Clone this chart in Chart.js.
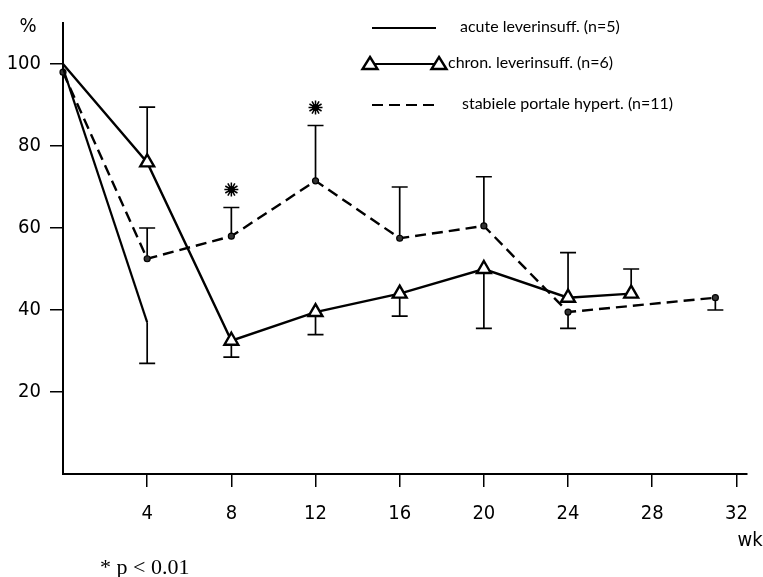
<!DOCTYPE html>
<html>
<head>
<meta charset="utf-8">
<script src="https://cdn.jsdelivr.net/npm/chart.js@4/dist/chart.umd.min.js"></script>
<style>
  html, body { margin: 0; padding: 0; background: #fff; }
  #wrap { position: relative; width: 763px; height: 577px; }
</style>
</head>
<body>
<div id="wrap"><canvas id="c" width="763" height="577"></canvas></div>
<script>
// Percentage of starting value per week, three patient groups
const weeksAcute = [0, 4];
const acute      = [99, 37];
const acuteSD    = [null, 27];            // end of one-sided SD bar

const weeksChron = [0, 4, 8, 12, 16, 20, 24, 27];
const chron      = [100, 76, 32.5, 39.5, 44, 50, 43, 44];
const chronSD    = [null, 89.5, 28.5, 34, 38.5, 35.5, 54, 50];

const weeksStab  = [0, 4, 8, 12, 16, 20, 24, 31];
const stab       = [98, 52.5, 58, 71.5, 57.5, 60.5, 39.5, 43];
const stabSD     = [null, 60, 65, 85, 70, 72.5, 35.5, 40];

const significantWeeks = [8, 12];         // p < 0.01 (stabiele portale hypert.)

const xTicks = [4, 8, 12, 16, 20, 24, 28, 32];
const yTicks = [20, 40, 60, 80, 100];

const labels = [
  'acute leverinsuff. (n=5)',
  'chron. leverinsuff. (n=6)',
  'stabiele portale hypert. (n=11)'
];

const tickFont = { family: '"Liberation Sans Narrow", "DejaVu Sans Condensed", "Liberation Sans", sans-serif', size: 20 };
const legendFont = '16px Lato, "DejaVu Sans", sans-serif';

const pts = (xs, ys) => xs.map((x, i) => ({ x, y: ys[i] }));

// one-sided SD bars with caps, drawn underneath the markers
const errorBars = {
  id: 'errorBars',
  beforeDatasetsDraw(chart) {
    const { ctx, scales: { x, y } } = chart;
    ctx.save();
    ctx.strokeStyle = '#000';
    ctx.lineWidth = 1.7;
    chart.data.datasets.forEach(ds => {
      if (!ds.sdEnds) return;
      ds.data.forEach((p, i) => {
        const e = ds.sdEnds[i];
        if (e == null) return;
        const px = x.getPixelForValue(p.x);
        const py = y.getPixelForValue(p.y);
        const pe = y.getPixelForValue(e);
        ctx.beginPath();
        ctx.moveTo(px, py);
        ctx.lineTo(px, pe);
        ctx.moveTo(px - 8, pe);
        ctx.lineTo(px + 8, pe);
        ctx.stroke();
      });
    });
    ctx.restore();
  }
};

function drawStar(ctx, cx, cy, r) {
  ctx.save();
  ctx.strokeStyle = '#000';
  ctx.lineWidth = 1.5;
  for (let k = 0; k < 12; k++) {
    const a = k * Math.PI / 6;
    ctx.beginPath();
    ctx.moveTo(cx, cy);
    ctx.lineTo(cx + Math.cos(a) * r, cy + Math.sin(a) * r);
    ctx.stroke();
  }
  ctx.fillStyle = '#000';
  ctx.beginPath();
  ctx.arc(cx, cy, r * 0.5, 0, Math.PI * 2);
  ctx.fill();
  ctx.restore();
}

function drawTriangle(ctx, cx, cy) {
  ctx.beginPath();
  ctx.moveTo(cx, cy - 7);
  ctx.lineTo(cx + 7.5, cy + 5);
  ctx.lineTo(cx - 7.5, cy + 5);
  ctx.closePath();
  ctx.fillStyle = '#fff';
  ctx.fill();
  ctx.lineWidth = 2.4;
  ctx.stroke();
}

// significance stars, legend and free text
const annotations = {
  id: 'annotations',
  afterDraw(chart) {
    const { ctx, scales: { x, y } } = chart;
    const stabDs = chart.data.datasets[2];
    significantWeeks.forEach(w => {
      const i = stabDs.data.findIndex(p => p.x === w);
      const top = y.getPixelForValue(stabDs.sdEnds[i]);
      drawStar(ctx, x.getPixelForValue(w), top - 18, 7);
    });

    ctx.save();
    ctx.fillStyle = '#000';
    ctx.strokeStyle = '#000';
    ctx.textBaseline = 'middle';

    // legend
    ctx.font = legendFont;
    ctx.lineWidth = 2.2;
    // row 1: plain solid line
    ctx.beginPath(); ctx.moveTo(372, 28); ctx.lineTo(436, 28); ctx.stroke();
    ctx.fillText(labels[0], 460, 27);
    // row 2: solid line between two triangles
    ctx.beginPath(); ctx.moveTo(370, 64); ctx.lineTo(439, 64); ctx.stroke();
    drawTriangle(ctx, 370, 64);
    drawTriangle(ctx, 439, 64);
    ctx.fillStyle = '#000';
    ctx.fillText(labels[1], 448, 63);
    // row 3: dashed line
    ctx.lineWidth = 2.2;
    ctx.setLineDash([11, 6]);
    ctx.beginPath(); ctx.moveTo(372, 105); ctx.lineTo(436, 105); ctx.stroke();
    ctx.setLineDash([]);
    ctx.fillText(labels[2], 462, 104);

    // axis captions
    ctx.font = '20px "Liberation Sans Narrow", "DejaVu Sans Condensed", "Liberation Sans", sans-serif';
    ctx.textAlign = 'center';
    ctx.fillText('%', 28, 27);
    ctx.fillText('wk', 750, 541);

    // footnote
    ctx.textAlign = 'left';
    ctx.textBaseline = 'alphabetic';
    ctx.font = '22px "Liberation Serif", "DejaVu Serif", serif';
    ctx.fillText('* p < 0.01', 100, 574);
    ctx.restore();
  }
};

new Chart(document.getElementById('c'), {
  type: 'scatter',
  data: {
    datasets: [
      {
        label: labels[0],
        data: pts(weeksAcute, acute),
        sdEnds: acuteSD,
        showLine: true,
        borderColor: '#000',
        borderWidth: 2.2,
        pointRadius: 0,
        clip: false
      },
      {
        label: labels[1],
        data: pts(weeksChron, chron),
        sdEnds: chronSD,
        showLine: true,
        borderColor: '#000',
        borderWidth: 2.4,
        pointStyle: 'triangle',
        pointRadius: weeksChron.map(w => (w === 0 ? 0 : 8)),
        pointBackgroundColor: '#fff',
        pointBorderColor: '#000',
        pointBorderWidth: 2.4,
        clip: false
      },
      {
        label: labels[2],
        data: pts(weeksStab, stab),
        sdEnds: stabSD,
        showLine: true,
        borderColor: '#000',
        borderWidth: 2.4,
        borderDash: [11, 6],
        pointStyle: 'circle',
        pointRadius: 3,
        pointBackgroundColor: '#333',
        pointBorderColor: '#000',
        pointBorderWidth: 1.2,
        clip: false
      }
    ]
  },
  options: {
    responsive: false,
    animation: false,
    devicePixelRatio: 1,
    layout: { padding: { top: 23, right: 0, left: 0, bottom: 0 } },
    plugins: { legend: { display: false }, tooltip: { enabled: false } },
    scales: {
      x: {
        type: 'linear',
        min: 0,
        max: 32.5,
        afterBuildTicks: s => { s.ticks = xTicks.map(v => ({ value: v })); },
        afterFit: s => { s.height = 103; },
        ticks: { color: '#000', font: tickFont, padding: 15, maxRotation: 0, autoSkip: false },
        grid: { drawOnChartArea: false, drawTicks: true, tickLength: 13, color: '#000', lineWidth: 1.5 },
        border: { color: '#000', width: 2 }
      },
      y: {
        type: 'linear',
        min: 0,
        max: 110,
        afterBuildTicks: s => { s.ticks = yTicks.map(v => ({ value: v })); },
        afterFit: s => { s.width = 63; },
        ticks: { color: '#000', font: tickFont, padding: 9 },
        grid: { drawOnChartArea: false, drawTicks: true, tickLength: 13, color: '#000', lineWidth: 1.5 },
        border: { color: '#000', width: 2 }
      }
    }
  },
  plugins: [errorBars, annotations]
});
</script>
</body>
</html>
